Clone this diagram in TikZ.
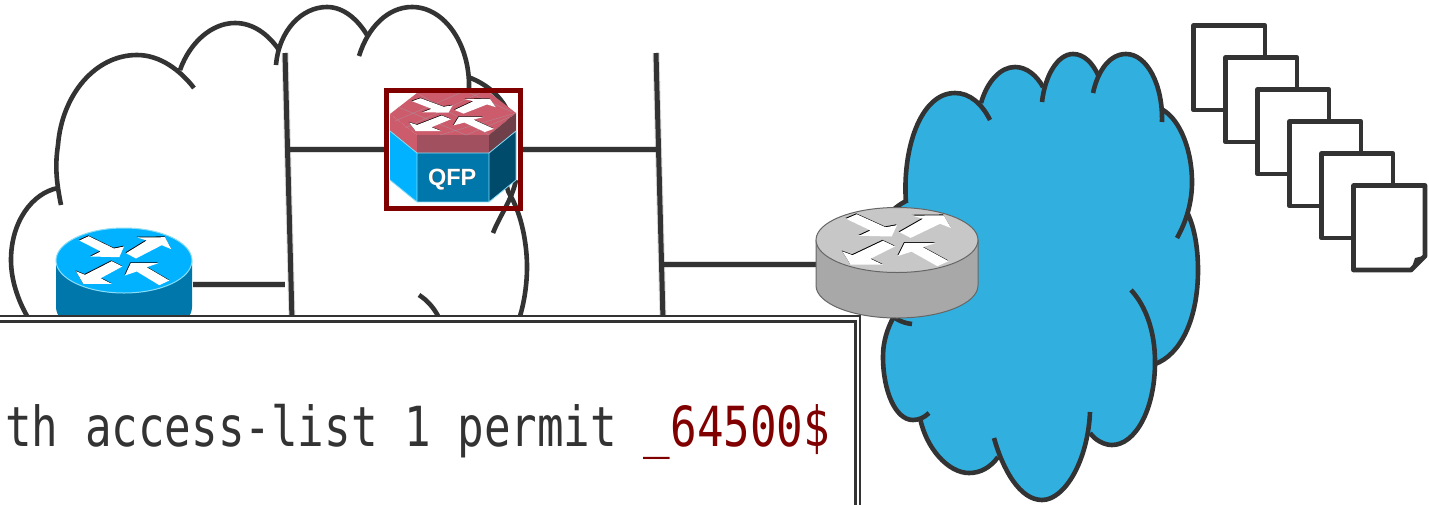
\documentclass[tikz,border=0pt]{standalone}
\usepackage{fontspec}
\setmainfont{Liberation Sans}
\newfontfamily\cfgfont{DejaVu Sans Mono}
\definecolor{ink}{HTML}{333333}
\definecolor{cloudblue}{HTML}{31B0E0}
\definecolor{darkred}{HTML}{800000}
\definecolor{ciscoblue}{HTML}{00B2FF}
\definecolor{ciscoside}{HTML}{0077AA}
\definecolor{ciscodark}{HTML}{004A6B}
\definecolor{ciscoline}{HTML}{8ADDF5}
\definecolor{qfptop}{HTML}{CC5B6C}
\definecolor{qfpfront}{HTML}{A0505F}
\definecolor{qfpright}{HTML}{70404A}
\definecolor{qfpgrid}{HTML}{B5828C}
\tikzset{
  cloudline/.style={draw=ink,line width=4.6pt},
  linkline/.style={draw=ink,line width=5pt},
  linkshadow/.style={draw=black,opacity=.13,line width=7pt,shift={(0,3)}},
  sheet/.style={draw=ink,fill=white,line width=4.8pt,line join=round},
  hook/.style={inner sep=0pt,outer sep=0pt,minimum size=0pt},
}
\newcommand\arrowset[1]{%
  \fill[#1] (-44.7,-20) -- (-35.3,-24.3) -- (-10,-12) -- (0,-14) -- (-4.7,-3.3) -- (-33.3,-4) -- (-23.3,-9) -- cycle;
  \fill[#1] (2,-7.3) -- (22.7,-20) -- (13.3,-23) -- (41,-23.3) -- (47.3,-11.3) -- (37.7,-15.3) -- (12,-2) -- cycle;
  \fill[#1] (-12.3,.7) -- (-1.7,6) -- (-23.3,17.7) -- (-12.3,23.3) -- (-40.7,23.3) -- (-48,10.7) -- (-39,14.3) -- cycle;
  \fill[#1] (45.3,20) -- (35.3,24.7) -- (12.7,11) -- (1,15) -- (6.7,2.7) -- (34.3,2.7) -- (22.7,6.7) -- cycle;
}
\newcommand\rtrarrows[4]{%
  \begin{scope}[shift={(#1,#2)},xscale=#3,yscale=#4]
    \begin{scope}[shift={(-.5,-.8)}]\arrowset{black}\end{scope}
    \arrowset{white}
  \end{scope}
}
\def\lobeA{(906,203) .. controls (902,150) and (920,93) .. (955,93) .. controls (970,93) and (982,104) .. (990,120)}
\def\lobeB{(981,103) .. controls (987,82) and (1000,67) .. (1015,67) .. controls (1027,67) and (1037,76) .. (1043,87)}
\def\lobeC{(1042,102) .. controls (1045,75) and (1058,54) .. (1073,54) .. controls (1084,54) and (1093,63) .. (1099,77)}
\def\lobeD{(1093,93) .. controls (1098,70) and (1110,54) .. (1126,54) .. controls (1147,54) and (1163,85) .. (1162,122)}
\def\lobeE{(1163,110) .. controls (1180,120) and (1192,150) .. (1192,182) .. controls (1192,203) and (1186,222) .. (1177,238)}
\def\lobeF{(1187,212) .. controls (1195,228) and (1198,250) .. (1198,270) .. controls (1198,320) and (1180,355) .. (1155,364)}
\def\lobeG{(1131,290) .. controls (1145,305) and (1155,330) .. (1155,362) .. controls (1155,410) and (1135,445) .. (1112,445) .. controls (1104,445) and (1095,440) .. (1090,433)}
\def\lobeH{(1090,412) .. controls (1088,460) and (1065,500) .. (1042,500) .. controls (1020,500) and (1003,470) .. (994,438)}
\def\lobeI{(998,457) .. controls (990,468) and (980,473) .. (969,473) .. controls (948,473) and (926,448) .. (920,418)}
\def\lobeJ{(929,413) .. controls (924,418) and (918,420) .. (913,420) .. controls (895,420) and (883,390) .. (883,357) .. controls (883,340) and (888,328) .. (893,318)}
\def\lobeK{(912,324) .. controls (890,322) and (870,300) .. (870,260) .. controls (870,235) and (885,212) .. (906,201)}
\begin{document}
\begin{tikzpicture}[x=1pt,y=-1pt]
\useasboundingbox (0,0) rectangle (1429,504);
\clip (0,0) rectangle (1429,504);
\fill[white] (0,0) rectangle (1429,504);

% white cloud
\draw[cloudline] (27,316) .. controls (18,300) and (11,280) .. (11,260) .. controls (11,222) and (32,193) .. (58,188);
\draw[cloudline] (61,205) .. controls (56,180) and (55,165) .. (58,145) .. controls (62,95) and (95,55) .. (137,55) .. controls (160,55) and (180,70) .. (194,88);
\draw[cloudline] (180,70) .. controls (190,42) and (212,23) .. (235,23) .. controls (253,23) and (268,34) .. (279,50);
\draw[cloudline] (276,65) .. controls (279,30) and (302,7) .. (327,7) .. controls (344,7) and (358,20) .. (367,35);
\draw[cloudline] (359,56) .. controls (368,27) and (388,7) .. (412,7) .. controls (445,7) and (470,45) .. (469,88);
\draw[cloudline] (468,77) .. controls (490,85) and (503,100) .. (508,112) .. controls (512,130) and (500,180) .. (510,195) .. controls (522,215) and (527,245) .. (527,267) .. controls (527,285) and (524,303) .. (520,316);
\draw[cloudline] (493,233) .. controls (500,215) and (512,200) .. (516,180);
\draw[cloudline] (419,295) .. controls (427,300) and (434,308) .. (438,316);

% blue cloud
\fill[cloudblue] (906,203) -- (955,100) -- (981,103) -- (1015,75) -- (1043,87) -- (1073,60) -- (1099,77) -- (1126,60) -- (1162,110) -- (1190,182) -- (1187,212) -- (1198,270) -- (1155,364) -- (1112,440) -- (1090,433) -- (1042,490) -- (998,457) -- (969,465) -- (920,418) -- (913,412) -- (883,357) -- (893,318) -- cycle;
\foreach \lobe in {\lobeA,\lobeB,\lobeC,\lobeD,\lobeE,\lobeF,\lobeG,\lobeH,\lobeI,\lobeJ,\lobeK}{
  \fill[cloudblue] \lobe -- cycle;
}
\foreach \lobe in {\lobeA,\lobeB,\lobeC,\lobeD,\lobeE,\lobeF,\lobeG,\lobeH,\lobeI,\lobeJ,\lobeK}{
  \draw[cloudline] \lobe;
}

% anchors
\node[hook,minimum width=137pt,minimum height=90pt] (rblue) at (124,272) {};
\node[hook,minimum width=162pt,minimum height=111pt] (rgray) at (897,263) {};
\node[hook,minimum width=134pt,minimum height=117.5pt] (qfp) at (453.5,149.25) {};
\coordinate (busAtop) at (285,53);
\coordinate (busAbot) at (292,320);
\coordinate (busBtop) at (656,53);
\coordinate (busBbot) at (663,320);
\coordinate (jA) at (288,149);
\coordinate (jB) at (660,149);
\coordinate (jC) at (285,284);
\coordinate (jD) at (663,264);

% links: shadows then lines
\draw[linkshadow] (busAtop) -- (busAbot);
\draw[linkshadow] (busBtop) -- (busBbot);
\draw[linkshadow] (jA) -- (qfp.west |- jA);
\draw[linkshadow] (qfp.east |- jB) -- (jB);
\draw[linkshadow] (rblue.east |- jC) -- (jC);
\draw[linkshadow] (jD) -- (rgray.west |- jD);
\draw[linkline] (busAtop) -- (busAbot);
\draw[linkline] (busBtop) -- (busBbot);
\draw[linkline] (jA) -- (qfp.west |- jA);
\draw[linkline] (qfp.east |- jB) -- (jB);
\draw[linkline] (rblue.east |- jC) -- (jC);
\draw[linkline] (jD) -- (rgray.west |- jD);

% blue router
\fill[ciscoside] (56,260.5) -- (56,307) arc[start angle=180,end angle=360,x radius=68,y radius=-32] -- (192,260.5) -- cycle;
\draw[ciscoline,line width=1pt,fill=ciscoblue] (124,260.5) ellipse[x radius=68,y radius=32.5];
\rtrarrows{124}{260.5}{1}{1}

% gray router
\path[draw=black!60,line width=1pt,fill=black!34] (816,240) -- (816,285.5) arc[start angle=180,end angle=360,x radius=81,y radius=-32.5] -- (978,240) -- cycle;
\draw[black!60,line width=1pt,fill=black!22] (897,240) ellipse[x radius=81,y radius=32.5];
\rtrarrows{897}{240}{1.14}{1.06}

% QFP hexagon
\fill[qfptop] (390,114) -- (417,93) -- (490,93) -- (516,113) -- (489,135) -- (417,135) -- cycle;
\fill[qfptop] (390,114) -- (417,135) -- (417,153) -- (390,131) -- cycle;
\fill[qfpfront] (417,135) -- (489,135) -- (489,153) -- (417,153) -- cycle;
\fill[qfpright] (489,135) -- (516,113) -- (516,131) -- (489,153) -- cycle;
\fill[ciscoblue] (390,131) -- (417,153) -- (417,202) -- (390,180) -- cycle;
\fill[ciscoside] (417,153) -- (489,153) -- (489,202) -- (417,202) -- cycle;
\fill[ciscodark] (489,153) -- (516,131) -- (516,180) -- (489,202) -- cycle;
\draw[qfpgrid,line width=.5pt] (395,121) -- (460,93) (405,128) -- (480,93) (440,135) -- (516,113) (466,135) -- (510,117) (417,93) -- (489,135) (398,107) -- (466,135) (470,93) -- (512,112);
\draw[ciscoline,line width=.8pt] (390,131) -- (417,153) -- (489,153) -- (516,131) (417,153) -- (417,202) (489,153) -- (489,202) (516,131) -- (516,180) -- (489,202) -- (417,202) -- (390,180);
\rtrarrows{452.7}{115}{.91}{.69}
\node[font=\bfseries,text=black!70,inner sep=0pt] at (453,180) {\fontsize{23.5}{24}\selectfont QFP};
\node[font=\bfseries,text=white,inner sep=0pt] (qfplabel) at (452.2,179.2) {\fontsize{23.5}{24}\selectfont QFP};
\draw[darkred,line width=5pt] (qfp.north west) rectangle (qfp.south east);

% documents
\foreach \k in {0,...,4}{
  \draw[sheet] ({1193.5+32*\k},{25.5+32*\k}) rectangle ({1265+32*\k},{110+32*\k});
}
\draw[sheet] (1353.5,185.5) -- (1425,185.5) -- (1425,256) -- (1411,270) -- (1353.5,270) -- cycle;
\fill[ink,line join=round] (1411,270) -- (1415,258) -- (1427,255) -- cycle;

% config box
\node[hook,draw=ink,fill=white,line width=2pt,minimum width=900pt,minimum height=220pt,anchor=north east] (cfgouter) at (860,316) {};
\node[hook,draw=ink,fill=white,line width=3pt,minimum width=900pt,minimum height=220pt,anchor=north east] (cfginner) at (855.5,321) {};
\node[anchor=base west,inner sep=0pt,text=ink] (cfgtext) at (5,446.5) {\scalebox{1}[1.25]{\cfgfont\fontsize{44.2}{44}\selectfont th access-list 1 permit \textcolor{darkred}{\_64500\$}}};
\end{tikzpicture}
\end{document}
